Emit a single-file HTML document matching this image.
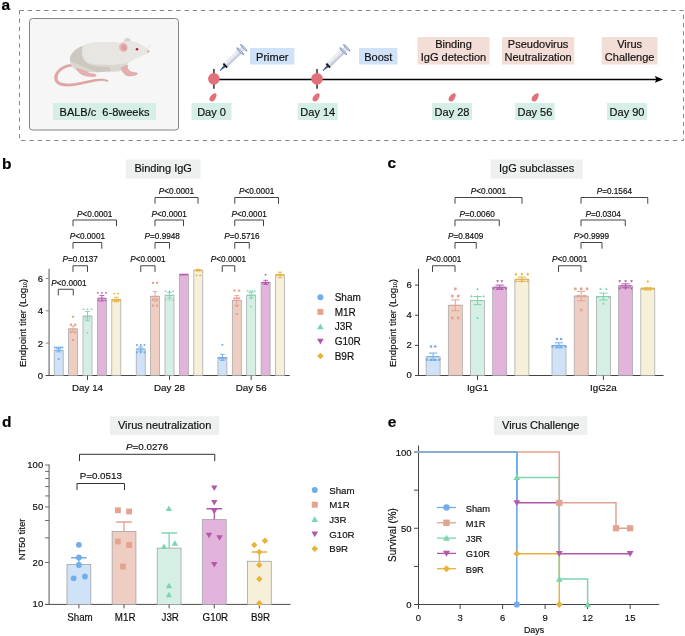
<!DOCTYPE html>
<html><head><meta charset="utf-8"><style>
html,body{margin:0;padding:0;background:#fff;}
body{width:685px;height:636px;overflow:hidden;font-family:"Liberation Sans", sans-serif;}
svg{display:block;will-change:transform;}
</style></head><body>
<svg width="685" height="636" viewBox="0 0 685 636" font-family="&quot;Liberation Sans&quot;, sans-serif">
<style>text{stroke:currentColor;stroke-width:1.6px;paint-order:stroke;}</style>
<rect width="685" height="636" fill="#ffffff"/>
<text transform="translate(1.50 10.00) scale(0.1)" font-size="155.0" text-anchor="start" font-weight="bold" fill="#000" >a</text>
<rect x="19.5" y="10.5" width="664" height="130" fill="none" stroke="#858585" stroke-width="1" stroke-dasharray="4.3,3.95"/>
<rect x="29.5" y="18.5" width="149" height="111.5" rx="3" fill="#f6f6f6" stroke="#858585" stroke-width="1"/>
<g>
<path d="M71,64.2 C64.5,65 59,68 56,72.8 C53.6,77 54.2,82.2 58.6,84.5 C63.5,86.8 71,86.2 78.5,84.8 C86,83.4 93,81.4 99.5,80.6 C102.8,80.3 105.4,80.7 107.6,81.6 L107.9,80.6 C105.6,79.4 102.8,78.9 99.3,79.1 C92.5,79.6 85.5,81.6 78,82.9 C71,84.1 64.5,84.6 60.3,82.6 C56.6,80.8 56.6,76.8 58.5,73.5 C61,69.3 66,66.8 72,66.2 Z" fill="#e3a8a6" stroke="#cf8f8d" stroke-width="0.5"/>
<path d="M70,61 C69.5,56 72.5,52 76,49.5 C81,46 88,43.5 95,42.6 C103,41.6 111,41.9 118.6,43.1 C121.5,42.6 124.5,41.6 127.5,41.6 C130,41.4 132.5,41.6 134.2,42.1 C138.5,43 142.8,45.4 146.5,48.6 C148,49.8 149.2,50.8 149.2,51.8 C149,52.9 148.3,53.2 147.5,53.4 C145.5,54 143.5,54.6 142,55 C139.5,56 137.5,57 135.5,58.2 C133,59.5 130,61.2 128.2,62.9 C126.5,64.5 125.5,66 124.5,67.8 C122.5,70.3 120,71.3 117,71.6 C113,71.9 110,71.2 106,71.4 C101,71.8 97,72.3 92,72.2 C85,72 79.5,71.2 75.5,69.4 C72.2,67.6 70.4,64.6 70,61 Z" fill="#dad7d1"/>
<path d="M82.6,46 C88,43.6 95,42.6 100,42.3 C108,41.8 114,42.2 118.6,43.1 C121.5,42.6 124.5,41.6 127.5,41.6 C130,41.4 132.5,41.6 134.2,42.1 C138.5,43 142.8,45.4 146.5,48.6 C148,49.8 149.2,50.8 149.2,51.8 C149,52.9 148.3,53.2 147.5,53.4 C145.5,54 143.5,54.6 142,55 C139.5,56 137.5,57 135.5,58.2 C133,59.5 130,61.2 128.2,62.9 C125,63.8 121,64 117.5,64.6 C112,65.3 106,64.6 100,64.6 C94,64.6 89,63.6 86,61 C82.5,58 81.6,52 82.6,46 Z" fill="#e8e6e3"/>
<path d="M70,61 C69.5,56 72.5,52 76,49.5 C78.5,47.7 80.8,46.6 82.6,46 C81.3,50.5 81.2,55.5 83,59.2 C85,62.8 89.5,65 95,66 C99,66.6 103,66.6 106,66.4 C108.5,66.3 110.5,67.5 111,71.3 C105,71.5 101,71.8 97,72.3 92,72.2 C85,72 79.5,71.2 75.5,69.4 C72.2,67.6 70.4,64.6 70,61 Z" fill="#cdc8bf"/>
<path d="M76.5,68.5 C77.5,71.6 80.5,74.3 84.5,75.6 C87.5,76.6 90.5,76.5 93,76.6 C95,76.7 96.6,76.1 96.2,75.1 C95.6,74.1 93.6,73.9 91.2,73.6 C89,73.3 87.5,72.4 86.5,71.4 Z" fill="#e6aeae" stroke="#d39594" stroke-width="0.45"/>
<path d="M121.3,67.8 C121.8,70.8 123.5,73.6 126,75.2 C128.5,76.3 132,75.9 135,75.2 C136.8,74.8 137.8,74 137.3,73.3 C136.6,72.6 134.5,72.6 132.5,72.3 C130.5,72 128.8,70.6 127.9,68.8 C127.3,67.5 127.3,66.2 127.8,65 Z" fill="#e6aeae" stroke="#d39594" stroke-width="0.45"/>
<path d="M124,41.8 C123.7,40 124.8,38.3 126.8,38 C128.8,37.8 130.6,38.8 131,40.6 C129.5,41.2 126.5,41.8 124,41.8 Z" fill="#d7d3cc"/>
<ellipse cx="123.4" cy="47.4" rx="4.3" ry="4.6" transform="rotate(-15 123.4 47.4)" fill="#e8b5b7"/>
<ellipse cx="124" cy="47.6" rx="2.4" ry="3.1" transform="rotate(-15 124 47.6)" fill="#dc9ea2"/>
<circle cx="137" cy="49.2" r="1.25" fill="#b4202c"/>
<ellipse cx="148.4" cy="51.3" rx="0.9" ry="1.3" fill="#e3a3a8"/>
<path d="M146.5,49 L150.5,43.8 M147,49.6 L152,45.5 M143,55.6 L136,58.2 M140,53 L134,55" stroke="#dedbd6" stroke-width="0.35" fill="none"/>
</g>
<rect x="53" y="103" width="103" height="17" fill="#d6efe6"/>
<text transform="translate(104.5 115.9) scale(0.1)" font-size="110" text-anchor="middle" fill="#0e0e0e" xml:space="preserve">BALB/c  6-8weeks</text>
<line x1="214" y1="79.4" x2="657" y2="79.4" stroke="#000" stroke-width="1.45"/>
<polygon points="654.8,76 663.2,79.4 654.8,82.8 656.4,79.4" fill="#000"/>
<line x1="213.9" y1="68.9" x2="213.9" y2="88.8" stroke="#2e2e2e" stroke-width="1.5"/>
<circle cx="213.9" cy="78.8" r="5.85" fill="#e2707a"/>
<line x1="317" y1="68.9" x2="317" y2="88.8" stroke="#2e2e2e" stroke-width="1.5"/>
<circle cx="317" cy="78.8" r="5.85" fill="#e2707a"/>
<path transform="translate(213.1 97.3) rotate(36)" d="M0,-4.8 C1.7,-4.7 2.7,-1.8 2.7,1 C2.7,3.5 1.4,4.7 0,4.7 C-1.4,4.7 -2.7,3.5 -2.7,1 C-2.7,-1.8 -1.7,-4.7 0,-4.8 Z" fill="#e2707a"/>
<path transform="translate(316.2 97.3) rotate(36)" d="M0,-4.8 C1.7,-4.7 2.7,-1.8 2.7,1 C2.7,3.5 1.4,4.7 0,4.7 C-1.4,4.7 -2.7,3.5 -2.7,1 C-2.7,-1.8 -1.7,-4.7 0,-4.8 Z" fill="#e2707a"/>
<path transform="translate(452.3 97.3) rotate(36)" d="M0,-4.8 C1.7,-4.7 2.7,-1.8 2.7,1 C2.7,3.5 1.4,4.7 0,4.7 C-1.4,4.7 -2.7,3.5 -2.7,1 C-2.7,-1.8 -1.7,-4.7 0,-4.8 Z" fill="#e2707a"/>
<path transform="translate(535.3 97.3) rotate(36)" d="M0,-4.8 C1.7,-4.7 2.7,-1.8 2.7,1 C2.7,3.5 1.4,4.7 0,4.7 C-1.4,4.7 -2.7,3.5 -2.7,1 C-2.7,-1.8 -1.7,-4.7 0,-4.8 Z" fill="#e2707a"/>
<rect x="191.5" y="103" width="40.0" height="17" fill="#d6efe6"/>
<text transform="translate(211.50 116.00) scale(0.1)" font-size="110.0" text-anchor="middle" font-weight="normal" fill="#0e0e0e" >Day 0</text>
<rect x="297.75" y="103" width="40.0" height="17" fill="#d6efe6"/>
<text transform="translate(317.75 116.00) scale(0.1)" font-size="110.0" text-anchor="middle" font-weight="normal" fill="#0e0e0e" >Day 14</text>
<rect x="432" y="103" width="40" height="17" fill="#d6efe6"/>
<text transform="translate(452.00 116.00) scale(0.1)" font-size="110.0" text-anchor="middle" font-weight="normal" fill="#0e0e0e" >Day 28</text>
<rect x="515" y="103" width="39.75" height="17" fill="#d6efe6"/>
<text transform="translate(534.88 116.00) scale(0.1)" font-size="110.0" text-anchor="middle" font-weight="normal" fill="#0e0e0e" >Day 56</text>
<rect x="607" y="103" width="40" height="17" fill="#d6efe6"/>
<text transform="translate(627.00 116.00) scale(0.1)" font-size="110.0" text-anchor="middle" font-weight="normal" fill="#0e0e0e" >Day 90</text>
<rect x="250" y="48" width="44.5" height="16.5" fill="#cfe2f7"/>
<text transform="translate(272.25 61.20) scale(0.1)" font-size="110.0" text-anchor="middle" font-weight="normal" fill="#0e0e0e" >Primer</text>
<rect x="359" y="48" width="38.5" height="16.5" fill="#cfe2f7"/>
<text transform="translate(378.25 61.20) scale(0.1)" font-size="110.0" text-anchor="middle" font-weight="normal" fill="#0e0e0e" >Boost</text>
<rect x="417.5" y="37" width="72.0" height="27.5" fill="#f3ddd7"/>
<text transform="translate(453.50 47.50) scale(0.1)" font-size="110.0" text-anchor="middle" font-weight="normal" fill="#0e0e0e" >Binding</text>
<text transform="translate(453.50 60.80) scale(0.1)" font-size="110.0" text-anchor="middle" font-weight="normal" fill="#0e0e0e" >IgG detection</text>
<rect x="502" y="37" width="72.20000000000005" height="27.5" fill="#f3ddd7"/>
<text transform="translate(538.10 47.50) scale(0.1)" font-size="110.0" text-anchor="middle" font-weight="normal" fill="#0e0e0e" >Pseudovirus</text>
<text transform="translate(538.10 60.80) scale(0.1)" font-size="110.0" text-anchor="middle" font-weight="normal" fill="#0e0e0e" >Neutralization</text>
<rect x="601.75" y="37" width="55.75" height="27.5" fill="#f3ddd7"/>
<text transform="translate(629.62 47.50) scale(0.1)" font-size="110.0" text-anchor="middle" font-weight="normal" fill="#0e0e0e" >Virus</text>
<text transform="translate(629.62 60.80) scale(0.1)" font-size="110.0" text-anchor="middle" font-weight="normal" fill="#0e0e0e" >Challenge</text>
<g transform="translate(219.9 70.7) rotate(-43.9)">
<polygon points="0,-0.3 6.6,-1.15 6.6,1.15 0,0.3" fill="#2d4f96"/>
<rect x="6.4" y="-2.7" width="2.2" height="5.4" fill="#161616"/>
<rect x="8.6" y="-2.45" width="18.8" height="4.9" fill="#e3e6ee" stroke="#b4bacb" stroke-width="0.45"/>
<rect x="8.8" y="0.7" width="18.4" height="1.5" fill="#c3c9d8"/>
<rect x="8.8" y="-2.1" width="18.4" height="0.8" fill="#f4f5f8"/>
<ellipse cx="28.2" cy="0" rx="1.25" ry="5.2" fill="#8a9ac2"/>
<ellipse cx="28.2" cy="0" rx="0.6" ry="3.6" fill="#c3cbe0"/>
<rect x="29.2" y="-1.8" width="3.0" height="3.6" fill="#e4e7ef" stroke="#a9b1c4" stroke-width="0.4"/>
<ellipse cx="33.1" cy="0" rx="1.25" ry="5.0" fill="#8a9ac2"/>
<ellipse cx="33.1" cy="0" rx="0.6" ry="3.4" fill="#c3cbe0"/>
</g>
<g transform="translate(322.9 70.7) rotate(-43.9)">
<polygon points="0,-0.3 6.6,-1.15 6.6,1.15 0,0.3" fill="#2d4f96"/>
<rect x="6.4" y="-2.7" width="2.2" height="5.4" fill="#161616"/>
<rect x="8.6" y="-2.45" width="18.8" height="4.9" fill="#e3e6ee" stroke="#b4bacb" stroke-width="0.45"/>
<rect x="8.8" y="0.7" width="18.4" height="1.5" fill="#c3c9d8"/>
<rect x="8.8" y="-2.1" width="18.4" height="0.8" fill="#f4f5f8"/>
<ellipse cx="28.2" cy="0" rx="1.25" ry="5.2" fill="#8a9ac2"/>
<ellipse cx="28.2" cy="0" rx="0.6" ry="3.6" fill="#c3cbe0"/>
<rect x="29.2" y="-1.8" width="3.0" height="3.6" fill="#e4e7ef" stroke="#a9b1c4" stroke-width="0.4"/>
<ellipse cx="33.1" cy="0" rx="1.25" ry="5.0" fill="#8a9ac2"/>
<ellipse cx="33.1" cy="0" rx="0.6" ry="3.4" fill="#c3cbe0"/>
</g>
<text transform="translate(2.00 168.80) scale(0.1)" font-size="155.0" text-anchor="start" font-weight="bold" fill="#000" >b</text>
<rect x="125.75" y="159.5" width="74.75" height="19.25" fill="#eeefef"/>
<text transform="translate(163.12 172.19) scale(0.1)" font-size="110.0" text-anchor="middle" font-weight="normal" fill="#0e0e0e" >Binding IgG</text>
<line x1="49.1" y1="268.75" x2="49.1" y2="375.5" stroke="#8e8e8e" stroke-width="1.5"/>
<line x1="48.35" y1="375.5" x2="289.75" y2="375.5" stroke="#4a4a4a" stroke-width="1.0"/>
<line x1="45.6" y1="375.5" x2="49.1" y2="375.5" stroke="#4a4a4a" stroke-width="1.0"/>
<text transform="translate(43.00 379.11) scale(0.1)" font-size="95.0" text-anchor="end" font-weight="normal" fill="#0e0e0e" >0</text>
<line x1="45.6" y1="343.15999999999997" x2="49.1" y2="343.15999999999997" stroke="#8e8e8e" stroke-width="1.0"/>
<text transform="translate(43.00 346.77) scale(0.1)" font-size="95.0" text-anchor="end" font-weight="normal" fill="#0e0e0e" >2</text>
<line x1="45.6" y1="310.82" x2="49.1" y2="310.82" stroke="#8e8e8e" stroke-width="1.0"/>
<text transform="translate(43.00 314.43) scale(0.1)" font-size="95.0" text-anchor="end" font-weight="normal" fill="#0e0e0e" >4</text>
<line x1="45.6" y1="278.48" x2="49.1" y2="278.48" stroke="#8e8e8e" stroke-width="1.0"/>
<text transform="translate(43.00 282.09) scale(0.1)" font-size="95.0" text-anchor="end" font-weight="normal" fill="#0e0e0e" >6</text>
<text transform="translate(25.5 323) rotate(-90) scale(0.1)" font-size="97.0" text-anchor="middle" fill="#0e0e0e">Endpoint titer (Log<tspan font-size="50" dy="11">10</tspan><tspan dy="-11">)</tspan></text>
<rect x="54.20" y="350.27" width="9" height="25.23" fill="#cfe2f7" stroke="#a3a3a3" stroke-width="0.7"/>
<path d="M58.70,351.89 V348.66 M56.30,348.66 H61.10 M56.30,351.89 H61.10" stroke="#72adeb" stroke-width="0.9" fill="none"/>
<line x1="54.90" y1="350.27" x2="62.50" y2="350.27" stroke="#72adeb" stroke-width="0.9"/>
<circle cx="54.90" cy="347.53" r="1.05" fill="#72adeb"/>
<circle cx="56.80" cy="347.53" r="1.05" fill="#72adeb"/>
<circle cx="58.70" cy="347.53" r="1.05" fill="#72adeb"/>
<circle cx="60.60" cy="347.53" r="1.05" fill="#72adeb"/>
<circle cx="62.50" cy="347.53" r="1.05" fill="#72adeb"/>
<circle cx="58.70" cy="359.01" r="1.05" fill="#72adeb"/>
<rect x="68.60" y="328.93" width="9" height="46.57" fill="#eecdc2" stroke="#a3a3a3" stroke-width="0.7"/>
<path d="M73.10,332.00 V325.86 M70.70,325.86 H75.50 M70.70,332.00 H75.50" stroke="#e3a390" stroke-width="0.9" fill="none"/>
<line x1="69.30" y1="328.93" x2="76.90" y2="328.93" stroke="#e3a390" stroke-width="0.9"/>
<rect x="72.05" y="315.75" width="2.10" height="2.10" fill="#e3a390"/>
<rect x="69.85" y="323.51" width="2.10" height="2.10" fill="#e3a390"/>
<rect x="74.25" y="323.51" width="2.10" height="2.10" fill="#e3a390"/>
<rect x="69.85" y="331.11" width="2.10" height="2.10" fill="#e3a390"/>
<rect x="74.25" y="331.11" width="2.10" height="2.10" fill="#e3a390"/>
<rect x="72.05" y="338.88" width="2.10" height="2.10" fill="#e3a390"/>
<rect x="83.00" y="316.16" width="9" height="59.34" fill="#d6efe5" stroke="#a3a3a3" stroke-width="0.7"/>
<path d="M87.50,320.85 V311.47 M85.10,311.47 H89.90 M85.10,320.85 H89.90" stroke="#7dd5ae" stroke-width="0.9" fill="none"/>
<line x1="83.70" y1="316.16" x2="91.30" y2="316.16" stroke="#7dd5ae" stroke-width="0.9"/>
<polygon points="83.40,308.10 84.56,310.10 82.25,310.10" fill="#7dd5ae"/>
<polygon points="87.50,308.10 88.66,310.10 86.34,310.10" fill="#7dd5ae"/>
<polygon points="91.60,308.10 92.75,310.10 90.44,310.10" fill="#7dd5ae"/>
<polygon points="85.45,317.16 86.61,319.15 84.30,319.15" fill="#7dd5ae"/>
<polygon points="89.55,317.16 90.70,319.15 88.39,319.15" fill="#7dd5ae"/>
<polygon points="87.50,331.55 88.66,333.54 86.34,333.54" fill="#7dd5ae"/>
<rect x="97.40" y="298.21" width="9" height="77.29" fill="#e2b4dc" stroke="#a3a3a3" stroke-width="0.7"/>
<path d="M101.90,300.96 V295.46 M99.50,295.46 H104.30 M99.50,300.96 H104.30" stroke="#b457ab" stroke-width="0.9" fill="none"/>
<line x1="98.10" y1="298.21" x2="105.70" y2="298.21" stroke="#b457ab" stroke-width="0.9"/>
<polygon points="97.80,294.30 98.96,292.30 96.65,292.30" fill="#b457ab"/>
<polygon points="101.90,294.30 103.06,292.30 100.75,292.30" fill="#b457ab"/>
<polygon points="106.00,294.30 107.16,292.30 104.84,292.30" fill="#b457ab"/>
<polygon points="98.50,301.74 99.66,299.74 97.34,299.74" fill="#b457ab"/>
<polygon points="101.90,301.74 103.06,299.74 100.75,299.74" fill="#b457ab"/>
<polygon points="105.30,301.74 106.46,299.74 104.15,299.74" fill="#b457ab"/>
<rect x="111.80" y="299.50" width="9" height="76.00" fill="#f6efd9" stroke="#a3a3a3" stroke-width="0.7"/>
<path d="M116.30,301.76 V297.24 M113.90,297.24 H118.70 M113.90,301.76 H118.70" stroke="#e8b23c" stroke-width="0.9" fill="none"/>
<line x1="112.50" y1="299.50" x2="120.10" y2="299.50" stroke="#e8b23c" stroke-width="0.9"/>
<polygon points="114.50,292.52 115.66,293.68 114.50,294.83 113.34,293.68" fill="#e8b23c"/>
<polygon points="118.10,292.52 119.25,293.68 118.10,294.83 116.94,293.68" fill="#e8b23c"/>
<polygon points="112.50,299.48 113.66,300.63 112.50,301.79 111.34,300.63" fill="#e8b23c"/>
<polygon points="114.40,299.48 115.55,300.63 114.40,301.79 113.24,300.63" fill="#e8b23c"/>
<polygon points="116.30,299.48 117.45,300.63 116.30,301.79 115.14,300.63" fill="#e8b23c"/>
<polygon points="118.20,299.48 119.36,300.63 118.20,301.79 117.05,300.63" fill="#e8b23c"/>
<polygon points="120.10,299.48 121.25,300.63 120.10,301.79 118.94,300.63" fill="#e8b23c"/>
<line x1="87.5" y1="375.5" x2="87.5" y2="380.0" stroke="#4a4a4a" stroke-width="1"/>
<rect x="136.20" y="348.98" width="9" height="26.52" fill="#cfe2f7" stroke="#a3a3a3" stroke-width="0.7"/>
<path d="M140.70,351.08 V346.88 M138.30,346.88 H143.10 M138.30,351.08 H143.10" stroke="#72adeb" stroke-width="0.9" fill="none"/>
<line x1="136.90" y1="348.98" x2="144.50" y2="348.98" stroke="#72adeb" stroke-width="0.9"/>
<circle cx="136.90" cy="344.94" r="1.05" fill="#72adeb"/>
<circle cx="140.70" cy="344.94" r="1.05" fill="#72adeb"/>
<circle cx="144.50" cy="344.94" r="1.05" fill="#72adeb"/>
<circle cx="136.90" cy="352.38" r="1.05" fill="#72adeb"/>
<circle cx="140.70" cy="352.38" r="1.05" fill="#72adeb"/>
<circle cx="144.50" cy="352.38" r="1.05" fill="#72adeb"/>
<rect x="150.60" y="296.27" width="9" height="79.23" fill="#eecdc2" stroke="#a3a3a3" stroke-width="0.7"/>
<path d="M155.10,300.96 V291.58 M152.70,291.58 H157.50 M152.70,300.96 H157.50" stroke="#e3a390" stroke-width="0.9" fill="none"/>
<line x1="151.30" y1="296.27" x2="158.90" y2="296.27" stroke="#e3a390" stroke-width="0.9"/>
<rect x="152.00" y="281.80" width="2.10" height="2.10" fill="#e3a390"/>
<rect x="156.10" y="281.80" width="2.10" height="2.10" fill="#e3a390"/>
<rect x="152.00" y="298.45" width="2.10" height="2.10" fill="#e3a390"/>
<rect x="156.10" y="298.45" width="2.10" height="2.10" fill="#e3a390"/>
<rect x="152.00" y="304.60" width="2.10" height="2.10" fill="#e3a390"/>
<rect x="156.10" y="304.60" width="2.10" height="2.10" fill="#e3a390"/>
<rect x="165.00" y="295.30" width="9" height="80.20" fill="#d6efe5" stroke="#a3a3a3" stroke-width="0.7"/>
<path d="M169.50,298.05 V292.55 M167.10,292.55 H171.90 M167.10,298.05 H171.90" stroke="#7dd5ae" stroke-width="0.9" fill="none"/>
<line x1="165.70" y1="295.30" x2="173.30" y2="295.30" stroke="#7dd5ae" stroke-width="0.9"/>
<polygon points="165.70,289.99 166.85,291.99 164.54,291.99" fill="#7dd5ae"/>
<polygon points="169.50,289.99 170.66,291.99 168.34,291.99" fill="#7dd5ae"/>
<polygon points="173.30,289.99 174.46,291.99 172.15,291.99" fill="#7dd5ae"/>
<polygon points="165.70,298.40 166.85,300.39 164.54,300.39" fill="#7dd5ae"/>
<polygon points="169.50,298.40 170.66,300.39 168.34,300.39" fill="#7dd5ae"/>
<polygon points="173.30,298.40 174.46,300.39 172.15,300.39" fill="#7dd5ae"/>
<rect x="179.40" y="274.76" width="9" height="100.74" fill="#e2b4dc" stroke="#a3a3a3" stroke-width="0.7"/>
<line x1="180.10" y1="274.76" x2="187.70" y2="274.76" stroke="#b457ab" stroke-width="0.9"/>
<polygon points="180.10,275.86 181.25,273.87 178.94,273.87" fill="#b457ab"/>
<polygon points="182.00,275.86 183.16,273.87 180.84,273.87" fill="#b457ab"/>
<polygon points="183.90,275.86 185.06,273.87 182.75,273.87" fill="#b457ab"/>
<polygon points="185.80,275.86 186.96,273.87 184.65,273.87" fill="#b457ab"/>
<polygon points="187.70,275.86 188.86,273.87 186.55,273.87" fill="#b457ab"/>
<rect x="193.80" y="270.23" width="9" height="105.27" fill="#f6efd9" stroke="#a3a3a3" stroke-width="0.7"/>
<path d="M198.30,271.04 V269.42 M195.90,269.42 H200.70 M195.90,271.04 H200.70" stroke="#e8b23c" stroke-width="0.9" fill="none"/>
<line x1="194.50" y1="270.23" x2="202.10" y2="270.23" stroke="#e8b23c" stroke-width="0.9"/>
<polygon points="198.30,268.43 199.46,269.59 198.30,270.74 197.15,269.59" fill="#e8b23c"/>
<polygon points="196.50,274.25 197.66,275.41 196.50,276.56 195.34,275.41" fill="#e8b23c"/>
<polygon points="200.10,274.25 201.26,275.41 200.10,276.56 198.95,275.41" fill="#e8b23c"/>
<line x1="169.5" y1="375.5" x2="169.5" y2="380.0" stroke="#4a4a4a" stroke-width="1"/>
<rect x="217.90" y="357.39" width="9" height="18.11" fill="#cfe2f7" stroke="#a3a3a3" stroke-width="0.7"/>
<path d="M222.40,360.46 V354.32 M220.00,354.32 H224.80 M220.00,360.46 H224.80" stroke="#72adeb" stroke-width="0.9" fill="none"/>
<line x1="218.60" y1="357.39" x2="226.20" y2="357.39" stroke="#72adeb" stroke-width="0.9"/>
<circle cx="222.40" cy="344.78" r="1.05" fill="#72adeb"/>
<circle cx="219.40" cy="358.52" r="1.05" fill="#72adeb"/>
<circle cx="221.40" cy="358.52" r="1.05" fill="#72adeb"/>
<circle cx="223.40" cy="358.52" r="1.05" fill="#72adeb"/>
<circle cx="225.40" cy="358.52" r="1.05" fill="#72adeb"/>
<rect x="232.30" y="300.47" width="9" height="75.03" fill="#eecdc2" stroke="#a3a3a3" stroke-width="0.7"/>
<path d="M236.80,305.32 V295.62 M234.40,295.62 H239.20 M234.40,305.32 H239.20" stroke="#e3a390" stroke-width="0.9" fill="none"/>
<line x1="233.00" y1="300.47" x2="240.60" y2="300.47" stroke="#e3a390" stroke-width="0.9"/>
<rect x="233.40" y="289.56" width="2.10" height="2.10" fill="#e3a390"/>
<rect x="238.10" y="289.56" width="2.10" height="2.10" fill="#e3a390"/>
<rect x="233.35" y="297.32" width="2.10" height="2.10" fill="#e3a390"/>
<rect x="235.75" y="297.32" width="2.10" height="2.10" fill="#e3a390"/>
<rect x="238.15" y="297.32" width="2.10" height="2.10" fill="#e3a390"/>
<rect x="235.75" y="305.08" width="2.10" height="2.10" fill="#e3a390"/>
<rect x="235.75" y="313.00" width="2.10" height="2.10" fill="#e3a390"/>
<rect x="246.70" y="295.14" width="9" height="80.36" fill="#d6efe5" stroke="#a3a3a3" stroke-width="0.7"/>
<path d="M251.20,297.72 V292.55 M248.80,292.55 H253.60 M248.80,297.72 H253.60" stroke="#7dd5ae" stroke-width="0.9" fill="none"/>
<line x1="247.40" y1="295.14" x2="255.00" y2="295.14" stroke="#7dd5ae" stroke-width="0.9"/>
<polygon points="247.60,289.83 248.75,291.82 246.44,291.82" fill="#7dd5ae"/>
<polygon points="250.00,289.83 251.16,291.82 248.84,291.82" fill="#7dd5ae"/>
<polygon points="252.40,289.83 253.55,291.82 251.24,291.82" fill="#7dd5ae"/>
<polygon points="254.80,289.83 255.95,291.82 253.64,291.82" fill="#7dd5ae"/>
<polygon points="251.20,297.27 252.35,299.26 250.04,299.26" fill="#7dd5ae"/>
<polygon points="251.20,305.19 252.35,307.18 250.04,307.18" fill="#7dd5ae"/>
<rect x="261.10" y="282.36" width="9" height="93.14" fill="#e2b4dc" stroke="#a3a3a3" stroke-width="0.7"/>
<path d="M265.60,284.46 V280.26 M263.20,280.26 H268.00 M263.20,284.46 H268.00" stroke="#b457ab" stroke-width="0.9" fill="none"/>
<line x1="261.80" y1="282.36" x2="269.40" y2="282.36" stroke="#b457ab" stroke-width="0.9"/>
<polygon points="265.60,276.03 266.75,274.03 264.44,274.03" fill="#b457ab"/>
<polygon points="262.60,284.27 263.75,282.28 261.44,282.28" fill="#b457ab"/>
<polygon points="264.60,284.27 265.75,282.28 263.44,282.28" fill="#b457ab"/>
<polygon points="266.60,284.27 267.75,282.28 265.44,282.28" fill="#b457ab"/>
<polygon points="268.60,284.27 269.75,282.28 267.44,282.28" fill="#b457ab"/>
<rect x="275.50" y="274.92" width="9" height="100.58" fill="#f6efd9" stroke="#a3a3a3" stroke-width="0.7"/>
<path d="M280.00,277.67 V272.17 M277.60,272.17 H282.40 M277.60,277.67 H282.40" stroke="#e8b23c" stroke-width="0.9" fill="none"/>
<line x1="276.20" y1="274.92" x2="283.80" y2="274.92" stroke="#e8b23c" stroke-width="0.9"/>
<polygon points="277.00,273.77 278.15,274.92 277.00,276.08 275.85,274.92" fill="#e8b23c"/>
<polygon points="279.00,273.77 280.15,274.92 279.00,276.08 277.85,274.92" fill="#e8b23c"/>
<polygon points="281.00,273.77 282.15,274.92 281.00,276.08 279.85,274.92" fill="#e8b23c"/>
<polygon points="283.00,273.77 284.15,274.92 283.00,276.08 281.85,274.92" fill="#e8b23c"/>
<line x1="251.2" y1="375.5" x2="251.2" y2="380.0" stroke="#4a4a4a" stroke-width="1"/>
<text transform="translate(87.50 390.80) scale(0.1)" font-size="98.0" text-anchor="middle" font-weight="normal" fill="#0e0e0e" >Day 14</text>
<text transform="translate(169.50 390.80) scale(0.1)" font-size="98.0" text-anchor="middle" font-weight="normal" fill="#0e0e0e" >Day 28</text>
<text transform="translate(251.20 390.80) scale(0.1)" font-size="98.0" text-anchor="middle" font-weight="normal" fill="#0e0e0e" >Day 56</text>
<path d="M58.25,295.45 V289.25 H73.25 V295.45" fill="none" stroke="#444" stroke-width="1.0"/>
<text transform="translate(69.00 285.85) scale(0.1)" font-size="82.0" text-anchor="middle" fill="#0e0e0e"><tspan font-style="italic">P</tspan>&lt;0.0001</text>
<path d="M73,271.95 V265.75 H87.5 V271.95" fill="none" stroke="#444" stroke-width="1.0"/>
<text transform="translate(80.25 262.35) scale(0.1)" font-size="82.0" text-anchor="middle" fill="#0e0e0e"><tspan font-style="italic">P</tspan>=0.0137</text>
<path d="M73,248.7 V242.5 H101.75 V248.7" fill="none" stroke="#444" stroke-width="1.0"/>
<text transform="translate(87.38 239.10) scale(0.1)" font-size="82.0" text-anchor="middle" fill="#0e0e0e"><tspan font-style="italic">P</tspan>&lt;0.0001</text>
<path d="M73,226.2 V220 H116.5 V226.2" fill="none" stroke="#444" stroke-width="1.0"/>
<text transform="translate(94.75 216.60) scale(0.1)" font-size="82.0" text-anchor="middle" fill="#0e0e0e"><tspan font-style="italic">P</tspan>&lt;0.0001</text>
<path d="M140.75,271.95 V265.75 H155 V271.95" fill="none" stroke="#444" stroke-width="1.0"/>
<text transform="translate(147.88 262.35) scale(0.1)" font-size="82.0" text-anchor="middle" fill="#0e0e0e"><tspan font-style="italic">P</tspan>&lt;0.0001</text>
<path d="M155,248.7 V242.5 H169.5 V248.7" fill="none" stroke="#444" stroke-width="1.0"/>
<text transform="translate(162.25 239.10) scale(0.1)" font-size="82.0" text-anchor="middle" fill="#0e0e0e"><tspan font-style="italic">P</tspan>=0.9948</text>
<path d="M155,226.2 V220 H183.5 V226.2" fill="none" stroke="#444" stroke-width="1.0"/>
<text transform="translate(169.25 216.60) scale(0.1)" font-size="82.0" text-anchor="middle" fill="#0e0e0e"><tspan font-style="italic">P</tspan>&lt;0.0001</text>
<path d="M155,203.7 V197.5 H198 V203.7" fill="none" stroke="#444" stroke-width="1.0"/>
<text transform="translate(176.50 194.10) scale(0.1)" font-size="82.0" text-anchor="middle" fill="#0e0e0e"><tspan font-style="italic">P</tspan>&lt;0.0001</text>
<path d="M222.25,271.95 V265.75 H234.75 V271.95" fill="none" stroke="#444" stroke-width="1.0"/>
<text transform="translate(228.50 262.35) scale(0.1)" font-size="82.0" text-anchor="middle" fill="#0e0e0e"><tspan font-style="italic">P</tspan>&lt;0.0001</text>
<path d="M234.75,248.7 V242.5 H249.25 V248.7" fill="none" stroke="#444" stroke-width="1.0"/>
<text transform="translate(242.00 239.10) scale(0.1)" font-size="82.0" text-anchor="middle" fill="#0e0e0e"><tspan font-style="italic">P</tspan>=0.5716</text>
<path d="M234.75,226.2 V220 H263.5 V226.2" fill="none" stroke="#444" stroke-width="1.0"/>
<text transform="translate(249.12 216.60) scale(0.1)" font-size="82.0" text-anchor="middle" fill="#0e0e0e"><tspan font-style="italic">P</tspan>&lt;0.0001</text>
<path d="M234.75,203.7 V197.5 H278.5 V203.7" fill="none" stroke="#444" stroke-width="1.0"/>
<text transform="translate(256.62 194.10) scale(0.1)" font-size="82.0" text-anchor="middle" fill="#0e0e0e"><tspan font-style="italic">P</tspan>&lt;0.0001</text>
<circle cx="320.40" cy="297.20" r="3.00" fill="#72adeb"/>
<text transform="translate(334.70 300.80) scale(0.1)" font-size="100.0" text-anchor="start" font-weight="normal" fill="#0e0e0e" >Sham</text>
<rect x="317.40" y="308.90" width="6.00" height="6.00" fill="#e3a390"/>
<text transform="translate(334.70 315.50) scale(0.1)" font-size="100.0" text-anchor="start" font-weight="normal" fill="#0e0e0e" >M1R</text>
<polygon points="320.40,323.45 323.70,329.15 317.10,329.15" fill="#7dd5ae"/>
<text transform="translate(334.70 330.20) scale(0.1)" font-size="100.0" text-anchor="start" font-weight="normal" fill="#0e0e0e" >J3R</text>
<polygon points="320.40,344.45 323.70,338.75 317.10,338.75" fill="#b457ab"/>
<text transform="translate(334.70 344.90) scale(0.1)" font-size="100.0" text-anchor="start" font-weight="normal" fill="#0e0e0e" >G10R</text>
<polygon points="320.40,352.70 323.70,356.00 320.40,359.30 317.10,356.00" fill="#e8b23c"/>
<text transform="translate(334.70 359.60) scale(0.1)" font-size="100.0" text-anchor="start" font-weight="normal" fill="#0e0e0e" >B9R</text>
<text transform="translate(387.60 168.00) scale(0.1)" font-size="155.0" text-anchor="start" font-weight="bold" fill="#000" >c</text>
<rect x="490.5" y="159.5" width="92.25" height="19.25" fill="#eeefef"/>
<text transform="translate(536.62 172.19) scale(0.1)" font-size="110.0" text-anchor="middle" font-weight="normal" fill="#0e0e0e" >IgG subclasses</text>
<line x1="418.5" y1="268.75" x2="418.5" y2="375.5" stroke="#444" stroke-width="1.0"/>
<line x1="418.0" y1="375.5" x2="663.5" y2="375.5" stroke="#444" stroke-width="1.0"/>
<line x1="415.0" y1="375.5" x2="418.5" y2="375.5" stroke="#444" stroke-width="1.0"/>
<text transform="translate(411.80 378.26) scale(0.1)" font-size="95.0" text-anchor="end" font-weight="normal" fill="#0e0e0e" >0</text>
<line x1="415.0" y1="345.36" x2="418.5" y2="345.36" stroke="#444" stroke-width="1.0"/>
<text transform="translate(411.80 348.12) scale(0.1)" font-size="95.0" text-anchor="end" font-weight="normal" fill="#0e0e0e" >2</text>
<line x1="415.0" y1="315.22" x2="418.5" y2="315.22" stroke="#444" stroke-width="1.0"/>
<text transform="translate(411.80 317.98) scale(0.1)" font-size="95.0" text-anchor="end" font-weight="normal" fill="#0e0e0e" >4</text>
<line x1="415.0" y1="285.08" x2="418.5" y2="285.08" stroke="#444" stroke-width="1.0"/>
<text transform="translate(411.80 287.84) scale(0.1)" font-size="95.0" text-anchor="end" font-weight="normal" fill="#0e0e0e" >6</text>
<text transform="translate(396 323) rotate(-90) scale(0.1)" font-size="97.0" text-anchor="middle" fill="#0e0e0e">Endpoint titer (Log<tspan font-size="50" dy="11">10</tspan><tspan dy="-11">)</tspan></text>
<rect x="426.10" y="356.66" width="14" height="18.84" fill="#cfe2f7" stroke="#a3a3a3" stroke-width="0.7"/>
<path d="M433.10,360.28 V353.05 M429.00,353.05 H437.20 M429.00,360.28 H437.20" stroke="#72adeb" stroke-width="1" fill="none"/>
<line x1="427.10" y1="356.66" x2="439.10" y2="356.66" stroke="#72adeb" stroke-width="1"/>
<circle cx="431.00" cy="346.57" r="1.30" fill="#72adeb"/>
<circle cx="435.20" cy="346.57" r="1.30" fill="#72adeb"/>
<circle cx="426.95" cy="359.68" r="1.30" fill="#72adeb"/>
<circle cx="431.05" cy="359.68" r="1.30" fill="#72adeb"/>
<circle cx="435.15" cy="359.68" r="1.30" fill="#72adeb"/>
<circle cx="439.25" cy="359.68" r="1.30" fill="#72adeb"/>
<rect x="448.30" y="305.27" width="14" height="70.23" fill="#eecdc2" stroke="#a3a3a3" stroke-width="0.7"/>
<path d="M455.30,310.70 V299.85 M451.20,299.85 H459.40 M451.20,310.70 H459.40" stroke="#e3a390" stroke-width="1" fill="none"/>
<line x1="449.30" y1="305.27" x2="461.30" y2="305.27" stroke="#e3a390" stroke-width="1"/>
<rect x="454.00" y="287.55" width="2.60" height="2.60" fill="#e3a390"/>
<rect x="451.05" y="294.78" width="2.60" height="2.60" fill="#e3a390"/>
<rect x="456.95" y="294.78" width="2.60" height="2.60" fill="#e3a390"/>
<rect x="451.05" y="316.63" width="2.60" height="2.60" fill="#e3a390"/>
<rect x="456.95" y="316.63" width="2.60" height="2.60" fill="#e3a390"/>
<rect x="470.50" y="300.60" width="14" height="74.90" fill="#d6efe5" stroke="#a3a3a3" stroke-width="0.7"/>
<path d="M477.50,304.67 V296.53 M473.40,296.53 H481.60 M473.40,304.67 H481.60" stroke="#7dd5ae" stroke-width="1" fill="none"/>
<line x1="471.50" y1="300.60" x2="483.50" y2="300.60" stroke="#7dd5ae" stroke-width="1"/>
<polygon points="477.50,287.48 478.93,289.95 476.07,289.95" fill="#7dd5ae"/>
<polygon points="471.40,294.72 472.83,297.19 469.97,297.19" fill="#7dd5ae"/>
<polygon points="477.50,294.72 478.93,297.19 476.07,297.19" fill="#7dd5ae"/>
<polygon points="483.60,294.72 485.03,297.19 482.17,297.19" fill="#7dd5ae"/>
<polygon points="477.50,316.57 478.93,319.04 476.07,319.04" fill="#7dd5ae"/>
<rect x="492.70" y="287.19" width="14" height="88.31" fill="#e2b4dc" stroke="#a3a3a3" stroke-width="0.7"/>
<path d="M499.70,289.30 V285.08 M495.60,285.08 H503.80 M495.60,289.30 H503.80" stroke="#b457ab" stroke-width="1" fill="none"/>
<line x1="493.70" y1="287.19" x2="505.70" y2="287.19" stroke="#b457ab" stroke-width="1"/>
<polygon points="497.55,282.68 498.98,280.21 496.12,280.21" fill="#b457ab"/>
<polygon points="501.85,282.68 503.28,280.21 500.42,280.21" fill="#b457ab"/>
<polygon points="493.55,289.91 494.98,287.44 492.12,287.44" fill="#b457ab"/>
<polygon points="497.65,289.91 499.08,287.44 496.22,287.44" fill="#b457ab"/>
<polygon points="501.75,289.91 503.18,287.44 500.32,287.44" fill="#b457ab"/>
<polygon points="505.85,289.91 507.28,287.44 504.42,287.44" fill="#b457ab"/>
<rect x="514.90" y="279.20" width="14" height="96.30" fill="#f6efd9" stroke="#a3a3a3" stroke-width="0.7"/>
<path d="M521.90,281.31 V277.09 M517.80,277.09 H526.00 M517.80,281.31 H526.00" stroke="#e8b23c" stroke-width="1" fill="none"/>
<line x1="515.90" y1="279.20" x2="527.90" y2="279.20" stroke="#e8b23c" stroke-width="1"/>
<polygon points="516.00,272.80 517.43,274.23 516.00,275.66 514.57,274.23" fill="#e8b23c"/>
<polygon points="521.90,272.80 523.33,274.23 521.90,275.66 520.47,274.23" fill="#e8b23c"/>
<polygon points="527.80,272.80 529.23,274.23 527.80,275.66 526.37,274.23" fill="#e8b23c"/>
<polygon points="516.00,279.88 517.43,281.31 516.00,282.74 514.57,281.31" fill="#e8b23c"/>
<polygon points="521.90,279.88 523.33,281.31 521.90,282.74 520.47,281.31" fill="#e8b23c"/>
<polygon points="527.80,279.88 529.23,281.31 527.80,282.74 526.37,281.31" fill="#e8b23c"/>
<line x1="477.5" y1="375.5" x2="477.5" y2="380.0" stroke="#444" stroke-width="1"/>
<rect x="552.00" y="345.36" width="14" height="30.14" fill="#cfe2f7" stroke="#a3a3a3" stroke-width="0.7"/>
<path d="M559.00,347.92 V342.80 M554.90,342.80 H563.10 M554.90,347.92 H563.10" stroke="#72adeb" stroke-width="1" fill="none"/>
<line x1="553.00" y1="345.36" x2="565.00" y2="345.36" stroke="#72adeb" stroke-width="1"/>
<circle cx="556.90" cy="339.03" r="1.30" fill="#72adeb"/>
<circle cx="561.10" cy="339.03" r="1.30" fill="#72adeb"/>
<circle cx="552.70" cy="346.57" r="1.30" fill="#72adeb"/>
<circle cx="556.90" cy="346.57" r="1.30" fill="#72adeb"/>
<circle cx="561.10" cy="346.57" r="1.30" fill="#72adeb"/>
<circle cx="565.30" cy="346.57" r="1.30" fill="#72adeb"/>
<rect x="574.20" y="296.08" width="14" height="79.42" fill="#eecdc2" stroke="#a3a3a3" stroke-width="0.7"/>
<path d="M581.20,300.75 V291.41 M577.10,291.41 H585.30 M577.10,300.75 H585.30" stroke="#e3a390" stroke-width="1" fill="none"/>
<line x1="575.20" y1="296.08" x2="587.20" y2="296.08" stroke="#e3a390" stroke-width="1"/>
<rect x="574.00" y="287.55" width="2.60" height="2.60" fill="#e3a390"/>
<rect x="579.90" y="287.55" width="2.60" height="2.60" fill="#e3a390"/>
<rect x="585.80" y="287.55" width="2.60" height="2.60" fill="#e3a390"/>
<rect x="576.90" y="294.78" width="2.60" height="2.60" fill="#e3a390"/>
<rect x="582.90" y="294.78" width="2.60" height="2.60" fill="#e3a390"/>
<rect x="579.90" y="308.65" width="2.60" height="2.60" fill="#e3a390"/>
<rect x="596.40" y="296.53" width="14" height="78.97" fill="#d6efe5" stroke="#a3a3a3" stroke-width="0.7"/>
<path d="M603.40,300.00 V293.07 M599.30,293.07 H607.50 M599.30,300.00 H607.50" stroke="#7dd5ae" stroke-width="1" fill="none"/>
<line x1="597.40" y1="296.53" x2="609.40" y2="296.53" stroke="#7dd5ae" stroke-width="1"/>
<polygon points="600.45,287.48 601.88,289.95 599.02,289.95" fill="#7dd5ae"/>
<polygon points="606.35,287.48 607.78,289.95 604.92,289.95" fill="#7dd5ae"/>
<polygon points="597.50,295.17 598.93,297.64 596.07,297.64" fill="#7dd5ae"/>
<polygon points="603.40,295.17 604.83,297.64 601.97,297.64" fill="#7dd5ae"/>
<polygon points="609.30,295.17 610.73,297.64 607.87,297.64" fill="#7dd5ae"/>
<polygon points="603.40,301.95 604.83,304.42 601.97,304.42" fill="#7dd5ae"/>
<rect x="618.60" y="285.83" width="14" height="89.67" fill="#e2b4dc" stroke="#a3a3a3" stroke-width="0.7"/>
<path d="M625.60,287.79 V283.87 M621.50,283.87 H629.70 M621.50,287.79 H629.70" stroke="#b457ab" stroke-width="1" fill="none"/>
<line x1="619.60" y1="285.83" x2="631.60" y2="285.83" stroke="#b457ab" stroke-width="1"/>
<polygon points="619.70,282.68 621.13,280.21 618.27,280.21" fill="#b457ab"/>
<polygon points="625.60,282.68 627.03,280.21 624.17,280.21" fill="#b457ab"/>
<polygon points="631.50,282.68 632.93,280.21 630.07,280.21" fill="#b457ab"/>
<polygon points="619.70,289.91 621.13,287.44 618.27,287.44" fill="#b457ab"/>
<polygon points="625.60,289.91 627.03,287.44 624.17,287.44" fill="#b457ab"/>
<polygon points="631.50,289.91 632.93,287.44 630.07,287.44" fill="#b457ab"/>
<rect x="640.80" y="288.85" width="14" height="86.65" fill="#f6efd9" stroke="#a3a3a3" stroke-width="0.7"/>
<path d="M647.80,289.90 V287.79 M643.70,287.79 H651.90 M643.70,289.90 H651.90" stroke="#e8b23c" stroke-width="1" fill="none"/>
<line x1="641.80" y1="288.85" x2="653.80" y2="288.85" stroke="#e8b23c" stroke-width="1"/>
<polygon points="647.80,280.18 649.23,281.61 647.80,283.04 646.37,281.61" fill="#e8b23c"/>
<polygon points="641.90,287.12 643.33,288.55 641.90,289.98 640.47,288.55" fill="#e8b23c"/>
<polygon points="644.85,287.12 646.28,288.55 644.85,289.98 643.42,288.55" fill="#e8b23c"/>
<polygon points="647.80,287.12 649.23,288.55 647.80,289.98 646.37,288.55" fill="#e8b23c"/>
<polygon points="650.75,287.12 652.18,288.55 650.75,289.98 649.32,288.55" fill="#e8b23c"/>
<polygon points="653.70,287.12 655.13,288.55 653.70,289.98 652.27,288.55" fill="#e8b23c"/>
<line x1="603.4" y1="375.5" x2="603.4" y2="380.0" stroke="#444" stroke-width="1"/>
<text transform="translate(477.50 390.80) scale(0.1)" font-size="98.0" text-anchor="middle" font-weight="normal" fill="#0e0e0e" >IgG1</text>
<text transform="translate(603.40 390.80) scale(0.1)" font-size="98.0" text-anchor="middle" font-weight="normal" fill="#0e0e0e" >IgG2a</text>
<path d="M432.5,271.95 V265.75 H455 V271.95" fill="none" stroke="#444" stroke-width="1.0"/>
<text transform="translate(443.75 262.35) scale(0.1)" font-size="82.0" text-anchor="middle" fill="#0e0e0e"><tspan font-style="italic">P</tspan>&lt;0.0001</text>
<path d="M455,248.7 V242.5 H476.25 V248.7" fill="none" stroke="#444" stroke-width="1.0"/>
<text transform="translate(465.62 239.10) scale(0.1)" font-size="82.0" text-anchor="middle" fill="#0e0e0e"><tspan font-style="italic">P</tspan>=0.8409</text>
<path d="M455,226.2 V220 H499.25 V226.2" fill="none" stroke="#444" stroke-width="1.0"/>
<text transform="translate(477.12 216.60) scale(0.1)" font-size="82.0" text-anchor="middle" fill="#0e0e0e"><tspan font-style="italic">P</tspan>=0.0060</text>
<path d="M455,203.7 V197.5 H522 V203.7" fill="none" stroke="#444" stroke-width="1.0"/>
<text transform="translate(488.50 194.10) scale(0.1)" font-size="82.0" text-anchor="middle" fill="#0e0e0e"><tspan font-style="italic">P</tspan>&lt;0.0001</text>
<path d="M558.5,271.95 V265.75 H581 V271.95" fill="none" stroke="#444" stroke-width="1.0"/>
<text transform="translate(569.75 262.35) scale(0.1)" font-size="82.0" text-anchor="middle" fill="#0e0e0e"><tspan font-style="italic">P</tspan>&lt;0.0001</text>
<path d="M581,248.7 V242.5 H602 V248.7" fill="none" stroke="#444" stroke-width="1.0"/>
<text transform="translate(591.50 239.10) scale(0.1)" font-size="82.0" text-anchor="middle" fill="#0e0e0e"><tspan font-style="italic">P</tspan>&gt;0.9999</text>
<path d="M581,226.2 V220 H625.25 V226.2" fill="none" stroke="#444" stroke-width="1.0"/>
<text transform="translate(603.12 216.60) scale(0.1)" font-size="82.0" text-anchor="middle" fill="#0e0e0e"><tspan font-style="italic">P</tspan>=0.0304</text>
<path d="M581,203.7 V197.5 H647.75 V203.7" fill="none" stroke="#444" stroke-width="1.0"/>
<text transform="translate(614.38 194.10) scale(0.1)" font-size="82.0" text-anchor="middle" fill="#0e0e0e"><tspan font-style="italic">P</tspan>=0.1564</text>
<text transform="translate(2.00 426.80) scale(0.1)" font-size="155.0" text-anchor="start" font-weight="bold" fill="#000" >d</text>
<rect x="110" y="416.25" width="109.25" height="18.75" fill="#eeefef"/>
<text transform="translate(164.62 428.69) scale(0.1)" font-size="110.0" text-anchor="middle" font-weight="normal" fill="#0e0e0e" >Virus neutralization</text>
<line x1="49.1" y1="464.5" x2="49.1" y2="604.4" stroke="#8e8e8e" stroke-width="1.5"/>
<line x1="45" y1="604.4" x2="290.5" y2="604.4" stroke="#4a4a4a" stroke-width="1"/>
<text transform="translate(43.20 607.46) scale(0.1)" font-size="95.0" text-anchor="end" font-weight="normal" fill="#0e0e0e" >10</text>
<line x1="45.1" y1="562.44" x2="49.1" y2="562.44" stroke="#6a6a6a" stroke-width="1.0"/>
<text transform="translate(43.20 565.50) scale(0.1)" font-size="95.0" text-anchor="end" font-weight="normal" fill="#0e0e0e" >20</text>
<line x1="45.1" y1="537.89" x2="49.1" y2="537.89" stroke="#6a6a6a" stroke-width="1.0"/>
<line x1="45.1" y1="520.47" x2="49.1" y2="520.47" stroke="#6a6a6a" stroke-width="1.0"/>
<line x1="45.1" y1="506.96" x2="49.1" y2="506.96" stroke="#6a6a6a" stroke-width="1.0"/>
<text transform="translate(43.20 510.03) scale(0.1)" font-size="95.0" text-anchor="end" font-weight="normal" fill="#0e0e0e" >50</text>
<line x1="45.1" y1="495.93" x2="49.1" y2="495.93" stroke="#6a6a6a" stroke-width="1.0"/>
<line x1="45.1" y1="486.59" x2="49.1" y2="486.59" stroke="#6a6a6a" stroke-width="1.0"/>
<line x1="45.1" y1="478.51" x2="49.1" y2="478.51" stroke="#6a6a6a" stroke-width="1.0"/>
<line x1="45.1" y1="471.38" x2="49.1" y2="471.38" stroke="#6a6a6a" stroke-width="1.0"/>
<line x1="45.1" y1="465.00" x2="49.1" y2="465.00" stroke="#6a6a6a" stroke-width="1.0"/>
<text transform="translate(43.20 468.06) scale(0.1)" font-size="95.0" text-anchor="end" font-weight="normal" fill="#0e0e0e" >100</text>
<text transform="translate(25.3 539.5) rotate(-90) scale(0.1)" font-size="95.0" text-anchor="middle" fill="#0e0e0e">NT50 titer</text>
<rect x="67.00" y="564.50" width="23.8" height="39.90" fill="#cfe2f7" stroke="#a3a3a3" stroke-width="0.8"/>
<path d="M78.90,564.50 V557.75 M71.10,557.75 H86.70" stroke="#72adeb" stroke-width="1.3" fill="none"/>
<line x1="78.90" y1="604.4" x2="78.90" y2="608.4" stroke="#4a4a4a" stroke-width="1.0"/>
<text transform="translate(80.00 621.00) scale(0.1 0.1050)" font-size="98.0" text-anchor="middle" font-weight="normal" fill="#0e0e0e" >Sham</text>
<circle cx="78.90" cy="544.80" r="2.90" fill="#72adeb"/>
<circle cx="78.90" cy="557.50" r="2.90" fill="#72adeb"/>
<circle cx="78.90" cy="565.00" r="2.90" fill="#72adeb"/>
<circle cx="73.70" cy="578.30" r="2.90" fill="#72adeb"/>
<circle cx="84.90" cy="576.50" r="2.90" fill="#72adeb"/>
<rect x="112.12" y="531.50" width="23.8" height="72.90" fill="#eecdc2" stroke="#a3a3a3" stroke-width="0.8"/>
<path d="M124.02,531.50 V522.00 M116.22,522.00 H131.82" stroke="#e3a390" stroke-width="1.3" fill="none"/>
<line x1="124.02" y1="604.4" x2="124.02" y2="608.4" stroke="#4a4a4a" stroke-width="1.0"/>
<text transform="translate(125.12 621.00) scale(0.1 0.1050)" font-size="98.0" text-anchor="middle" font-weight="normal" fill="#0e0e0e" >M1R</text>
<rect x="115.02" y="507.40" width="5.80" height="5.80" fill="#e3a390"/>
<rect x="126.22" y="508.60" width="5.80" height="5.80" fill="#e3a390"/>
<rect x="115.02" y="538.60" width="5.80" height="5.80" fill="#e3a390"/>
<rect x="126.22" y="542.10" width="5.80" height="5.80" fill="#e3a390"/>
<rect x="120.02" y="563.60" width="5.80" height="5.80" fill="#e3a390"/>
<rect x="157.24" y="548.10" width="23.8" height="56.30" fill="#d6efe5" stroke="#a3a3a3" stroke-width="0.8"/>
<path d="M169.14,548.10 V533.00 M161.34,533.00 H176.94" stroke="#7dd5ae" stroke-width="1.3" fill="none"/>
<line x1="169.14" y1="604.4" x2="169.14" y2="608.4" stroke="#4a4a4a" stroke-width="1.0"/>
<text transform="translate(170.24 621.00) scale(0.1 0.1050)" font-size="98.0" text-anchor="middle" font-weight="normal" fill="#0e0e0e" >J3R</text>
<polygon points="168.94,505.45 172.13,510.96 165.75,510.96" fill="#7dd5ae"/>
<polygon points="163.94,543.56 167.13,549.07 160.75,549.07" fill="#7dd5ae"/>
<polygon points="174.84,540.36 178.03,545.87 171.65,545.87" fill="#7dd5ae"/>
<polygon points="168.94,582.75 172.13,588.26 165.75,588.26" fill="#7dd5ae"/>
<polygon points="168.94,591.66 172.13,597.17 165.75,597.17" fill="#7dd5ae"/>
<rect x="202.36" y="519.50" width="23.8" height="84.90" fill="#e2b4dc" stroke="#a3a3a3" stroke-width="0.8"/>
<path d="M214.26,519.50 V508.75 M206.46,508.75 H222.06" stroke="#b457ab" stroke-width="1.3" fill="none"/>
<line x1="214.26" y1="604.4" x2="214.26" y2="608.4" stroke="#4a4a4a" stroke-width="1.0"/>
<text transform="translate(215.36 621.00) scale(0.1 0.1050)" font-size="98.0" text-anchor="middle" font-weight="normal" fill="#0e0e0e" >G10R</text>
<polygon points="214.26,491.05 217.45,485.54 211.07,485.54" fill="#b457ab"/>
<polygon points="214.26,505.55 217.45,500.04 211.07,500.04" fill="#b457ab"/>
<polygon points="214.26,514.35 217.45,508.84 211.07,508.84" fill="#b457ab"/>
<polygon points="208.96,538.25 212.15,532.74 205.77,532.74" fill="#b457ab"/>
<polygon points="219.56,540.75 222.75,535.24 216.37,535.24" fill="#b457ab"/>
<polygon points="214.26,567.54 217.45,562.03 211.07,562.03" fill="#b457ab"/>
<rect x="247.48" y="561.25" width="23.8" height="43.15" fill="#f6efd9" stroke="#a3a3a3" stroke-width="0.8"/>
<path d="M259.38,561.25 V552.00 M251.58,552.00 H267.18" stroke="#e8b23c" stroke-width="1.3" fill="none"/>
<line x1="259.38" y1="604.4" x2="259.38" y2="608.4" stroke="#4a4a4a" stroke-width="1.0"/>
<text transform="translate(260.48 621.00) scale(0.1 0.1050)" font-size="98.0" text-anchor="middle" font-weight="normal" fill="#0e0e0e" >B9R</text>
<polygon points="254.28,541.81 257.47,545.00 254.28,548.19 251.09,545.00" fill="#e8b23c"/>
<polygon points="264.98,537.61 268.17,540.80 264.98,543.99 261.79,540.80" fill="#e8b23c"/>
<polygon points="259.28,548.81 262.47,552.00 259.28,555.19 256.09,552.00" fill="#e8b23c"/>
<polygon points="259.28,561.81 262.47,565.00 259.28,568.19 256.09,565.00" fill="#e8b23c"/>
<polygon points="259.28,575.81 262.47,579.00 259.28,582.19 256.09,579.00" fill="#e8b23c"/>
<polygon points="259.28,600.11 262.47,603.30 259.28,606.49 256.09,603.30" fill="#e8b23c"/>
<path d="M77,490.0 V483.5 H124.5 V490.0" fill="none" stroke="#333" stroke-width="1.0"/>
<text transform="translate(100.75 478.90) scale(0.1)" font-size="98.0" text-anchor="middle" fill="#0e0e0e">P=0.0513</text>
<path d="M79.5,461.1 V454.3 H214.75 V461.1" fill="none" stroke="#333" stroke-width="1.0"/>
<text transform="translate(147.12 449.90) scale(0.1)" font-size="98.0" text-anchor="middle" fill="#0e0e0e"><tspan font-style="italic">P</tspan>=0.0276</text>
<circle cx="314.75" cy="490.00" r="3.00" fill="#72adeb"/>
<text transform="translate(329.25 493.60) scale(0.1)" font-size="97.0" text-anchor="start" font-weight="normal" fill="#0e0e0e" >Sham</text>
<rect x="311.75" y="501.70" width="6.00" height="6.00" fill="#e3a390"/>
<text transform="translate(329.25 508.30) scale(0.1)" font-size="97.0" text-anchor="start" font-weight="normal" fill="#0e0e0e" >M1R</text>
<polygon points="314.75,516.25 318.05,521.95 311.45,521.95" fill="#7dd5ae"/>
<text transform="translate(329.25 523.00) scale(0.1)" font-size="97.0" text-anchor="start" font-weight="normal" fill="#0e0e0e" >J3R</text>
<polygon points="314.75,537.25 318.05,531.55 311.45,531.55" fill="#b457ab"/>
<text transform="translate(329.25 537.70) scale(0.1)" font-size="97.0" text-anchor="start" font-weight="normal" fill="#0e0e0e" >G10R</text>
<polygon points="314.75,545.50 318.05,548.80 314.75,552.10 311.45,548.80" fill="#e8b23c"/>
<text transform="translate(329.25 552.40) scale(0.1)" font-size="97.0" text-anchor="start" font-weight="normal" fill="#0e0e0e" >B9R</text>
<text transform="translate(387.70 426.60) scale(0.1)" font-size="155.0" text-anchor="start" font-weight="bold" fill="#000" >e</text>
<rect x="494" y="416.25" width="93.5" height="18.75" fill="#eeefef"/>
<text transform="translate(540.75 428.69) scale(0.1)" font-size="110.0" text-anchor="middle" font-weight="normal" fill="#0e0e0e" >Virus Challenge</text>
<line x1="418.5" y1="445.5" x2="418.5" y2="604.5" stroke="#444" stroke-width="1"/>
<line x1="414" y1="604.5" x2="659.25" y2="604.5" stroke="#444" stroke-width="1"/>
<line x1="414" y1="604.5" x2="418.5" y2="604.5" stroke="#444" stroke-width="1"/>
<text transform="translate(411.60 608.21) scale(0.1)" font-size="95.0" text-anchor="end" font-weight="normal" fill="#0e0e0e" >0</text>
<line x1="414" y1="566.375" x2="418.5" y2="566.375" stroke="#444" stroke-width="1"/>
<line x1="414" y1="528.25" x2="418.5" y2="528.25" stroke="#444" stroke-width="1"/>
<text transform="translate(411.60 531.96) scale(0.1)" font-size="95.0" text-anchor="end" font-weight="normal" fill="#0e0e0e" >50</text>
<line x1="414" y1="490.125" x2="418.5" y2="490.125" stroke="#444" stroke-width="1"/>
<line x1="414" y1="452.0" x2="418.5" y2="452.0" stroke="#444" stroke-width="1"/>
<text transform="translate(411.60 455.71) scale(0.1)" font-size="95.0" text-anchor="end" font-weight="normal" fill="#0e0e0e" >100</text>
<line x1="418.50" y1="604.5" x2="418.50" y2="609.0" stroke="#444" stroke-width="1"/>
<text transform="translate(418.50 620.70) scale(0.1)" font-size="95.0" text-anchor="middle" font-weight="normal" fill="#0e0e0e" >0</text>
<line x1="460.11" y1="604.5" x2="460.11" y2="609.0" stroke="#444" stroke-width="1"/>
<text transform="translate(460.11 620.70) scale(0.1)" font-size="95.0" text-anchor="middle" font-weight="normal" fill="#0e0e0e" >3</text>
<line x1="502.62" y1="604.5" x2="502.62" y2="609.0" stroke="#444" stroke-width="1"/>
<text transform="translate(502.62 620.70) scale(0.1)" font-size="95.0" text-anchor="middle" font-weight="normal" fill="#0e0e0e" >6</text>
<line x1="545.13" y1="604.5" x2="545.13" y2="609.0" stroke="#444" stroke-width="1"/>
<text transform="translate(545.13 620.70) scale(0.1)" font-size="95.0" text-anchor="middle" font-weight="normal" fill="#0e0e0e" >9</text>
<line x1="587.64" y1="604.5" x2="587.64" y2="609.0" stroke="#444" stroke-width="1"/>
<text transform="translate(587.64 620.70) scale(0.1)" font-size="95.0" text-anchor="middle" font-weight="normal" fill="#0e0e0e" >12</text>
<line x1="630.15" y1="604.5" x2="630.15" y2="609.0" stroke="#444" stroke-width="1"/>
<text transform="translate(630.15 620.70) scale(0.1)" font-size="95.0" text-anchor="middle" font-weight="normal" fill="#0e0e0e" >15</text>
<text transform="translate(534.00 632.60) scale(0.1)" font-size="88.0" text-anchor="middle" font-weight="normal" fill="#0e0e0e" >Days</text>
<text transform="translate(395.5 535) rotate(-90) scale(0.1)" font-size="100.0" text-anchor="middle" fill="#0e0e0e">Survival (%)</text>
<path d="M417.60,452.00 L516.79,452.00 L516.79,553.67 L559.30,553.67 L559.30,604.50" fill="none" stroke="#e8b23c" stroke-width="1.5"/>
<path d="M417.60,452.00 L516.79,452.00 L516.79,502.83 L559.30,502.83 L559.30,553.67 L630.15,553.67" fill="none" stroke="#b457ab" stroke-width="1.5"/>
<path d="M417.60,452.00 L516.79,452.00 L516.79,477.42 L559.30,477.42 L559.30,579.08 L587.64,579.08 L587.64,604.50" fill="none" stroke="#7dd5ae" stroke-width="1.5"/>
<path d="M417.60,452.00 L559.30,452.00 L559.30,502.83 L615.98,502.83 L615.98,528.25 L630.15,528.25" fill="none" stroke="#e3a390" stroke-width="1.5"/>
<path d="M417.60,452.00 L516.79,452.00 L516.79,604.50" fill="none" stroke="#72adeb" stroke-width="1.5"/>
<polygon points="516.79,550.26 520.20,553.67 516.79,557.08 513.38,553.67" fill="#e8b23c"/>
<polygon points="559.30,601.09 562.71,604.50 559.30,607.91 555.89,604.50" fill="#e8b23c"/>
<polygon points="516.79,506.08 520.20,500.19 513.38,500.19" fill="#b457ab"/>
<polygon points="559.30,556.93 562.71,551.04 555.89,551.04" fill="#b457ab"/>
<polygon points="630.15,556.93 633.56,551.04 626.74,551.04" fill="#b457ab"/>
<polygon points="516.79,474.17 520.20,480.06 513.38,480.06" fill="#7dd5ae"/>
<polygon points="559.30,575.82 562.71,581.71 555.89,581.71" fill="#7dd5ae"/>
<polygon points="587.64,601.25 591.05,607.13 584.23,607.13" fill="#7dd5ae"/>
<rect x="556.20" y="499.73" width="6.20" height="6.20" fill="#e3a390"/>
<rect x="612.88" y="525.15" width="6.20" height="6.20" fill="#e3a390"/>
<rect x="627.05" y="525.15" width="6.20" height="6.20" fill="#e3a390"/>
<circle cx="516.79" cy="604.50" r="3.10" fill="#72adeb"/>
<line x1="437" y1="507.5" x2="456" y2="507.5" stroke="#72adeb" stroke-width="1.3"/>
<circle cx="446.50" cy="507.50" r="3.20" fill="#72adeb"/>
<text transform="translate(465.75 511.50) scale(0.1)" font-size="93.0" text-anchor="start" font-weight="normal" fill="#0e0e0e" >Sham</text>
<line x1="437" y1="522.8" x2="456" y2="522.8" stroke="#e3a390" stroke-width="1.3"/>
<rect x="443.30" y="519.60" width="6.40" height="6.40" fill="#e3a390"/>
<text transform="translate(465.75 526.80) scale(0.1)" font-size="93.0" text-anchor="start" font-weight="normal" fill="#0e0e0e" >M1R</text>
<line x1="437" y1="538.1" x2="456" y2="538.1" stroke="#7dd5ae" stroke-width="1.3"/>
<polygon points="446.50,534.74 450.02,540.82 442.98,540.82" fill="#7dd5ae"/>
<text transform="translate(465.75 542.10) scale(0.1)" font-size="93.0" text-anchor="start" font-weight="normal" fill="#0e0e0e" >J3R</text>
<line x1="437" y1="553.4" x2="456" y2="553.4" stroke="#b457ab" stroke-width="1.3"/>
<polygon points="446.50,556.76 450.02,550.68 442.98,550.68" fill="#b457ab"/>
<text transform="translate(465.75 557.40) scale(0.1)" font-size="93.0" text-anchor="start" font-weight="normal" fill="#0e0e0e" >G10R</text>
<line x1="437" y1="568.7" x2="456" y2="568.7" stroke="#e8b23c" stroke-width="1.3"/>
<polygon points="446.50,565.18 450.02,568.70 446.50,572.22 442.98,568.70" fill="#e8b23c"/>
<text transform="translate(465.75 572.70) scale(0.1)" font-size="93.0" text-anchor="start" font-weight="normal" fill="#0e0e0e" >B9R</text>
</svg>
</body></html>
